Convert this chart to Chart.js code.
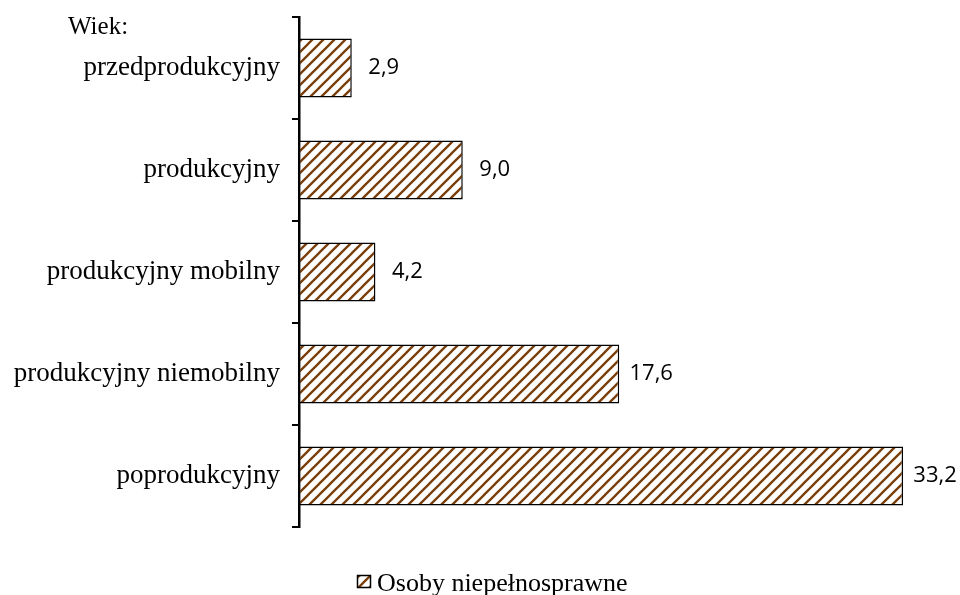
<!DOCTYPE html>
<html><head><meta charset="utf-8">
<script src="https://cdn.jsdelivr.net/npm/chart.js@4/dist/chart.umd.min.js"></script>
<style>html,body{margin:0;padding:0;background:#fff}#wrap{width:960px;height:595px;position:relative}</style>
</head><body><div id="wrap"><canvas id="c" width="960" height="595"></canvas></div>
<script>
const categories = ["przedprodukcyjny","produkcyjny","produkcyjny mobilny","produkcyjny niemobilny","poprodukcyjny"];
const values = [2.9, 9.0, 4.2, 17.6, 33.2];
const valueLabels = ["2,9","9,0","4,2","17,6","33,2"];
const seriesName = "Osoby niepełnosprawne";
const axisTitle = "Wiek:";

function makePattern(){
  const s = 11;
  const p = document.createElement('canvas'); p.width = s; p.height = s;
  const g = p.getContext('2d');
  g.fillStyle = '#fff'; g.fillRect(0,0,s,s);
  g.strokeStyle = '#7a3e0b'; g.lineWidth = 2.3;
  g.beginPath();
  g.moveTo(-2, s+2); g.lineTo(s+2, -2);
  g.moveTo(-2-s, s+2); g.lineTo(2, -2);
  g.moveTo(s-2, s+2); g.lineTo(2*s+2, -2);
  g.stroke();
  return document.getElementById('c').getContext('2d').createPattern(p,'repeat');
}
const pattern = makePattern();

const extras = {
  id:'extras',
  afterDatasetsDraw(chart){
    const ctx = chart.ctx; const meta = chart.getDatasetMeta(0);
    ctx.save();
    ctx.fillStyle = '#000';
    ctx.font = '22px "Open Sans"'; ctx.textBaseline='middle'; ctx.textAlign='center';
    meta.data.forEach((b,i)=>{ ctx.fillText(valueLabels[i], b.x + 32, b.y); });
    ctx.textAlign='left';
    ctx.font = '25px "Liberation Serif"';
    ctx.fillText(axisTitle, 68, 27);
    // legend
    const lx = 357, ly = 575;
    ctx.fillStyle = pattern; ctx.fillRect(lx, ly, 14, 13);
    ctx.strokeStyle='#000'; ctx.lineWidth=1.5; ctx.strokeRect(lx+0.5, ly+0.5, 13, 12);
    ctx.fillStyle='#000'; ctx.font = '26px "Liberation Serif"'; ctx.textBaseline='alphabetic';
    ctx.fillText(seriesName, 377, 591);
    ctx.restore();
  }
};

new Chart(document.getElementById('c'), {
  type:'bar',
  data:{ labels: categories, datasets:[{ label: seriesName, data: values, backgroundColor: pattern, borderColor:'#000', borderWidth:1.5, borderSkipped:false, barPercentage:0.58, categoryPercentage:1 }]},
  options:{
    indexAxis:'y', responsive:false, animation:false, devicePixelRatio:1,
    layout:{ padding:{ left:8, right:6, top:17, bottom:68 } },
    plugins:{ legend:{display:false}, tooltip:{enabled:false} },
    scales:{
      x:{ display:false, min:0, max:36 },
      y:{
        afterFit(s){ s.width = 291; s.paddingTop = 0; s.paddingBottom = 0; },
        grid:{ offset:true, drawOnChartArea:false, drawTicks:true, tickLength:7, color:'#000', lineWidth:2 },
        border:{ display:true, color:'#000', width:2.5 },
        ticks:{ color:'#000', padding:12, font:{ family:'"Liberation Serif"', size:27 } }
      }
    }
  },
  plugins:[extras]
});
</script></body></html>
